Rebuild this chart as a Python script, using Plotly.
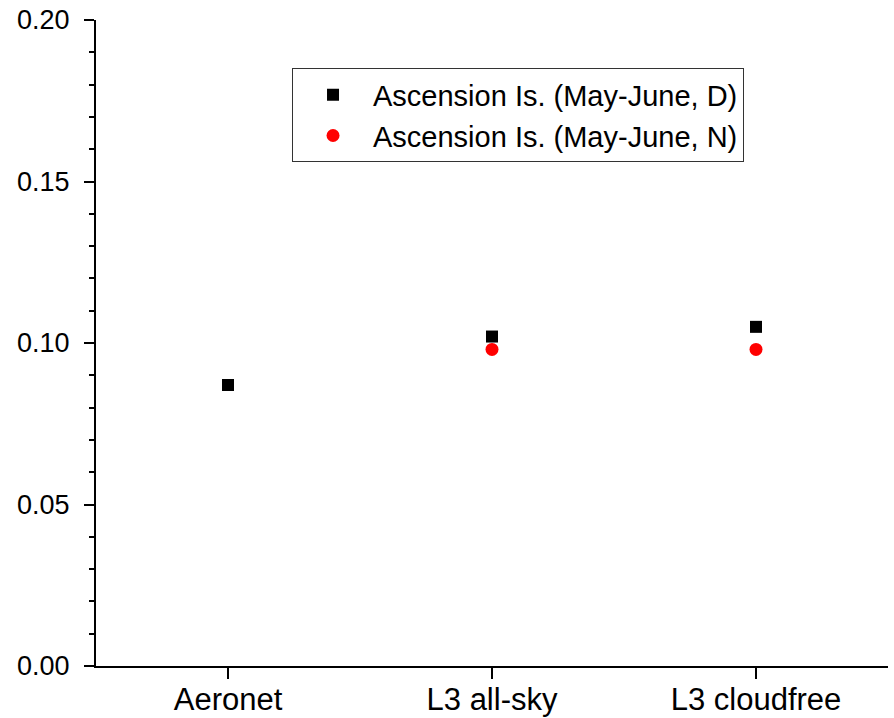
import plotly.graph_objects as go

categories = ["Aeronet", "L3 all-sky", "L3 cloudfree"]
day_values = [0.087, 0.102, 0.105]
night_cats = ["L3 all-sky", "L3 cloudfree"]
night_values = [0.098, 0.098]
yticks = [0.00, 0.05, 0.10, 0.15, 0.20]
ytick_text = ["0.00", "0.05", "0.10", "0.15", "0.20"]

fig = go.Figure()
fig.add_trace(go.Scatter(x=categories, y=day_values, mode="markers",
                         name="Ascension Is. (May-June, D)",
                         marker=dict(symbol="square", size=12, color="black")))
fig.add_trace(go.Scatter(x=night_cats, y=night_values, mode="markers",
                         name="Ascension Is. (May-June, N)",
                         marker=dict(symbol="circle", size=13, color="red")))

font = "Liberation Sans, Arial, sans-serif"
fig.update_layout(
    width=894, height=718,
    margin=dict(l=96, r=6, t=20, b=52),
    plot_bgcolor="white", paper_bgcolor="white",
    font=dict(family=font, size=28, color="black"),
    showlegend=True,
    legend=dict(x=0.2475, y=0.925, xanchor="left", yanchor="top",
                bordercolor="#333", borderwidth=1, bgcolor="white",
                itemwidth=70,
                font=dict(size=29, family=font), tracegroupgap=0),
    xaxis=dict(type="category", categoryorder="array", categoryarray=categories,
               range=[-0.5, 2.5], showline=True, linecolor="black", linewidth=2,
               ticks="outside", ticklen=11, tickwidth=2, tickcolor="black",
               tickfont=dict(size=31), automargin=False, ticklabelstandoff=-6,
               showgrid=False, zeroline=False, mirror=False),
    yaxis=dict(range=[0, 0.2], tickvals=yticks, ticktext=ytick_text,
               showline=True, linecolor="black", linewidth=2,
               ticks="outside", ticklen=10, tickwidth=2, tickcolor="black",
               tickfont=dict(size=27), automargin=False, ticklabelstandoff=9,
               minor=dict(dtick=0.01, ticks="outside", ticklen=5, tickwidth=2,
                          tickcolor="black", showgrid=False),
               showgrid=False, zeroline=False, mirror=False),
)
fig.write_html("out.html")
